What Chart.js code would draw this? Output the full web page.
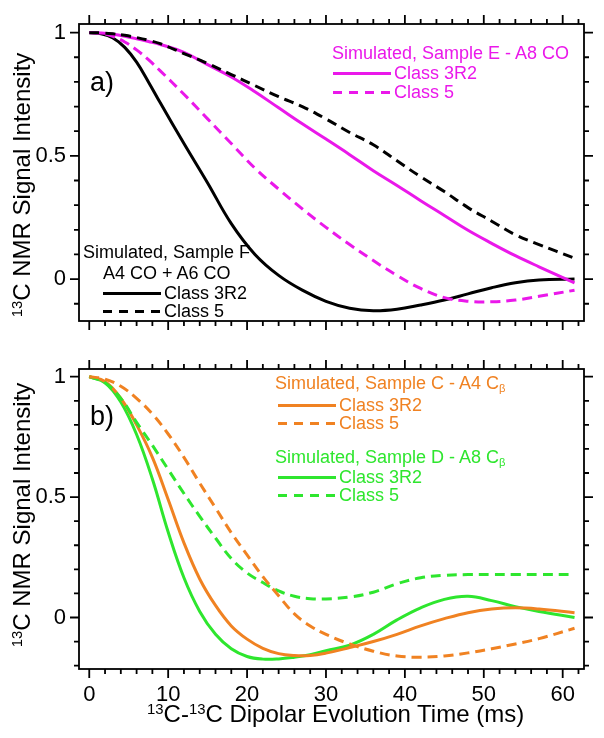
<!DOCTYPE html>
<html>
<head>
<meta charset="utf-8">
<script src="https://cdn.jsdelivr.net/npm/chart.js@4.4.1/dist/chart.umd.min.js"></script>
<style>
  body { margin: 0; background: #fff; font-family: "Liberation Sans", Arial, sans-serif; }
  #wrap { position: relative; width: 604px; height: 738px; overflow: hidden; }
  canvas { position: absolute; left: 0; }
  #cA { top: 0; }
  #cB { top: 345px; }
  .txt { position: absolute; white-space: nowrap; font-size: 18px; line-height: 18px; }
  .row { position: absolute; white-space: nowrap; font-size: 18px; line-height: 18px; display: flex; align-items: center; }
  .row .s { display: inline-block; width: 58px; height: 3px; margin-right: 3px; }
  .ytitle { position: absolute; width: 320px; text-align: center; font-size: 24px; line-height: 24px;
            transform: rotate(-90deg); transform-origin: 50% 50%; white-space: nowrap; }
  .xtitle { position: absolute; font-size: 24px; line-height: 24px; white-space: nowrap; }
  .panel { position: absolute; font-size: 27px; line-height: 27px; }
  sup { font-size: 62%; vertical-align: 0.55em; line-height: 0; }
  sub { font-size: 62%; vertical-align: -0.25em; line-height: 0; }
</style>
</head>
<body>
<div id="wrap">
  <canvas id="cA" width="604" height="345"></canvas>
  <canvas id="cB" width="604" height="393"></canvas>

  <div class="panel" style="left:90px; top:69px;">a)</div>
  <div class="panel" style="left:90px; top:403px;">b)</div>

  <div class="ytitle" style="left:-138px; top:173px;"><sup>13</sup>C NMR Signal Intensity</div>
  <div class="ytitle" style="left:-138px; top:503px;"><sup>13</sup>C NMR Signal Intensity</div>
  <div class="xtitle" style="left:147px; top:702px;"><sup>13</sup>C-<sup>13</sup>C Dipolar Evolution Time (ms)</div>

  <div id="legends"></div>
</div>

<script>
// ----- DATA -----
const timeA = [0, 1.5, 3, 4.5, 6, 7.5, 9, 12, 15, 18, 21, 24, 27, 30, 33, 36, 39, 42, 45, 48, 51, 54, 57, 61.5];
const sampleF3R2 = [1, 0.995, 0.978, 0.94, 0.88, 0.80, 0.715, 0.55, 0.39, 0.225, 0.10, 0.015, -0.045, -0.09, -0.118, -0.128, -0.122, -0.105, -0.085, -0.06, -0.035, -0.015, -0.004, 0];
const sampleF5 = [1, 0.999, 0.995, 0.989, 0.98, 0.969, 0.955, 0.915, 0.875, 0.83, 0.785, 0.74, 0.70, 0.65, 0.595, 0.545, 0.48, 0.415, 0.355, 0.29, 0.235, 0.18, 0.14, 0.085];
const sampleE3R2 = [1, 0.998, 0.993, 0.985, 0.975, 0.964, 0.952, 0.92, 0.87, 0.82, 0.76, 0.695, 0.63, 0.568, 0.505, 0.44, 0.38, 0.318, 0.258, 0.198, 0.145, 0.095, 0.05, -0.015];
const sampleE5 = [1, 0.997, 0.985, 0.962, 0.93, 0.89, 0.845, 0.75, 0.65, 0.55, 0.45, 0.365, 0.285, 0.21, 0.14, 0.075, 0.015, -0.038, -0.075, -0.09, -0.092, -0.085, -0.07, -0.045];

const timeB = [0, 2, 4, 6, 8, 10, 12, 14, 16, 18, 20, 22, 24, 26, 28, 30, 33, 36, 39, 42, 45, 48, 51, 54, 57, 61.5];
const sampleC3R2 = [1, 0.98, 0.91, 0.8, 0.665, 0.49, 0.31, 0.16, 0.05, -0.035, -0.09, -0.128, -0.15, -0.158, -0.158, -0.148, -0.125, -0.1, -0.07, -0.035, -0.005, 0.02, 0.035, 0.04, 0.035, 0.02];
const sampleC5 = [1, 0.99, 0.96, 0.91, 0.845, 0.762, 0.665, 0.558, 0.455, 0.352, 0.26, 0.17, 0.09, 0.015, -0.035, -0.07, -0.11, -0.14, -0.16, -0.165, -0.16, -0.147, -0.13, -0.11, -0.088, -0.045];
const sampleD3R2 = [1, 0.975, 0.895, 0.76, 0.575, 0.355, 0.165, 0.025, -0.07, -0.13, -0.162, -0.173, -0.172, -0.165, -0.155, -0.138, -0.115, -0.07, -0.01, 0.04, 0.075, 0.088, 0.07, 0.045, 0.025, 0];
const sampleD5 = [1, 0.975, 0.91, 0.81, 0.715, 0.615, 0.515, 0.42, 0.33, 0.245, 0.185, 0.145, 0.11, 0.088, 0.078, 0.077, 0.085, 0.105, 0.14, 0.165, 0.175, 0.178, 0.178, 0.178, 0.178, 0.178];

const xTickLabels = [0, 10, 20, 30, 40, 50, 60];
const yTickLabels = [0, 0.5, 1];

const MAGENTA = "#ea18ea";
const ORANGE = "#f08222";
const GREEN = "#2ee62e";
const FONT = "'Liberation Sans', Arial, sans-serif";

// ----- FRAME + TICK MARKS -----
const framePlugin = {
  id: "frameTicks",
  afterDraw(chart) {
    const { ctx, chartArea: a, scales: { x, y } } = chart;
    ctx.save();
    ctx.strokeStyle = "#000";
    ctx.lineWidth = 1.8;
    ctx.strokeRect(a.left, a.top, a.right - a.left, a.bottom - a.top);
    ctx.beginPath();
    for (let i = Math.ceil(x.min / 2); i * 2 <= x.max; i++) {
      const px = x.getPixelForValue(i * 2);
      const len = (i * 2) % 10 === 0 ? 9 : 5;
      ctx.moveTo(px, a.top); ctx.lineTo(px, a.top - len);
      ctx.moveTo(px, a.bottom); ctx.lineTo(px, a.bottom + len);
    }
    for (let i = Math.ceil(y.min * 10); i <= Math.floor(y.max * 10); i++) {
      const py = y.getPixelForValue(i / 10);
      const len = i % 5 === 0 ? 9 : 5;
      ctx.moveTo(a.left, py); ctx.lineTo(a.left - len, py);
      ctx.moveTo(a.right, py); ctx.lineTo(a.right + len, py);
    }
    ctx.stroke();
    ctx.restore();
  }
};

function series(xs, ys, color, dashed) {
  return {
    data: xs.map((t, i) => ({ x: t, y: ys[i] })),
    borderColor: color,
    borderWidth: 3,
    borderDash: dashed ? [10, 6] : [],
    pointRadius: 0,
    tension: 0.4,
    fill: false
  };
}

function yScale(min, max) {
  return {
    min, max,
    grid: { display: false, drawTicks: false },
    border: { display: false },
    afterBuildTicks: (s) => { s.ticks = yTickLabels.map((v) => ({ value: v })); },
    afterFit: (s) => { s.width = 79; },
    ticks: { color: "#000", padding: 13, font: { size: 22, family: FONT, lineHeight: 1 }, callback: (v) => String(v) }
  };
}

const common = {
  responsive: false,
  animation: false,
  plugins: { legend: { display: false }, tooltip: { enabled: false } }
};

// ----- PANEL A -----
new Chart(document.getElementById("cA"), {
  type: "line",
  data: {
    datasets: [
      series(timeA, sampleF5, "#000", true),
      series(timeA, sampleE3R2, MAGENTA, false),
      series(timeA, sampleE5, MAGENTA, true),
      series(timeA, sampleF3R2, "#000", false)
    ]
  },
  options: {
    ...common,
    layout: { padding: { top: 20, right: 20, bottom: 13, left: 0 } },
    scales: {
      x: { type: "linear", min: -1.3, max: 62.7, display: false },
      y: yScale(-0.17, 1.035)
    }
  },
  plugins: [framePlugin]
});

// ----- PANEL B -----
new Chart(document.getElementById("cB"), {
  type: "line",
  data: {
    datasets: [
      series(timeB, sampleC5, ORANGE, true),
      series(timeB, sampleD5, GREEN, true),
      series(timeB, sampleC3R2, ORANGE, false),
      series(timeB, sampleD3R2, GREEN, false)
    ]
  },
  options: {
    ...common,
    layout: { padding: { top: 15, right: 20, bottom: 0, left: 0 } },
    scales: {
      x: {
        type: "linear", min: -1.3, max: 62.7,
        grid: { display: false, drawTicks: false },
        border: { display: false },
        afterBuildTicks: (s) => { s.ticks = xTickLabels.map((v) => ({ value: v })); },
        afterFit: (s) => { s.height = 69; },
        ticks: { color: "#000", padding: 15, maxRotation: 0, autoSkip: false, font: { size: 22, family: FONT, lineHeight: 1 } }
      },
      y: yScale(-0.214, 1.032)
    }
  },
  plugins: [framePlugin]
});

// ----- LEGENDS -----
const legendRows = [
  { text: "Simulated, Sample E - A8 CO", color: MAGENTA, left: 332, cy: 53 },
  { text: "Class 3R2", color: MAGENTA, left: 333, cy: 73, line: "solid" },
  { text: "Class 5", color: MAGENTA, left: 333, cy: 92, line: "dash" },
  { text: "Simulated, Sample F", color: "#000", left: 83, cy: 252 },
  { text: "A4 CO + A6 CO", color: "#000", left: 103, cy: 273 },
  { text: "Class 3R2", color: "#000", left: 103, cy: 293, line: "solid" },
  { text: "Class 5", color: "#000", left: 103, cy: 311, line: "dash" },
  { text: "Simulated, Sample C - A4 C<sub>β</sub>", color: ORANGE, left: 275, cy: 383 },
  { text: "Class 3R2", color: ORANGE, left: 278, cy: 405, line: "solid" },
  { text: "Class 5", color: ORANGE, left: 278, cy: 423, line: "dash" },
  { text: "Simulated, Sample D - A8 C<sub>β</sub>", color: GREEN, left: 275, cy: 457 },
  { text: "Class 3R2", color: GREEN, left: 278, cy: 477, line: "solid" },
  { text: "Class 5", color: GREEN, left: 278, cy: 495, line: "dash" }
];

const legendBox = document.getElementById("legends");
legendRows.forEach((r) => {
  const el = document.createElement("div");
  el.className = r.line ? "row" : "txt";
  el.style.left = r.left + "px";
  el.style.top = (r.cy - 9) + "px";
  el.style.color = r.color;
  let sample = "";
  if (r.line === "solid") {
    sample = `<span class="s" style="background:${r.color}"></span>`;
  } else if (r.line === "dash") {
    sample = `<span class="s" style="background:repeating-linear-gradient(to right, ${r.color} 0 9px, transparent 9px 16px)"></span>`;
  }
  el.innerHTML = sample + `<span>${r.text}</span>`;
  legendBox.appendChild(el);
});
</script>
</body>
</html>
